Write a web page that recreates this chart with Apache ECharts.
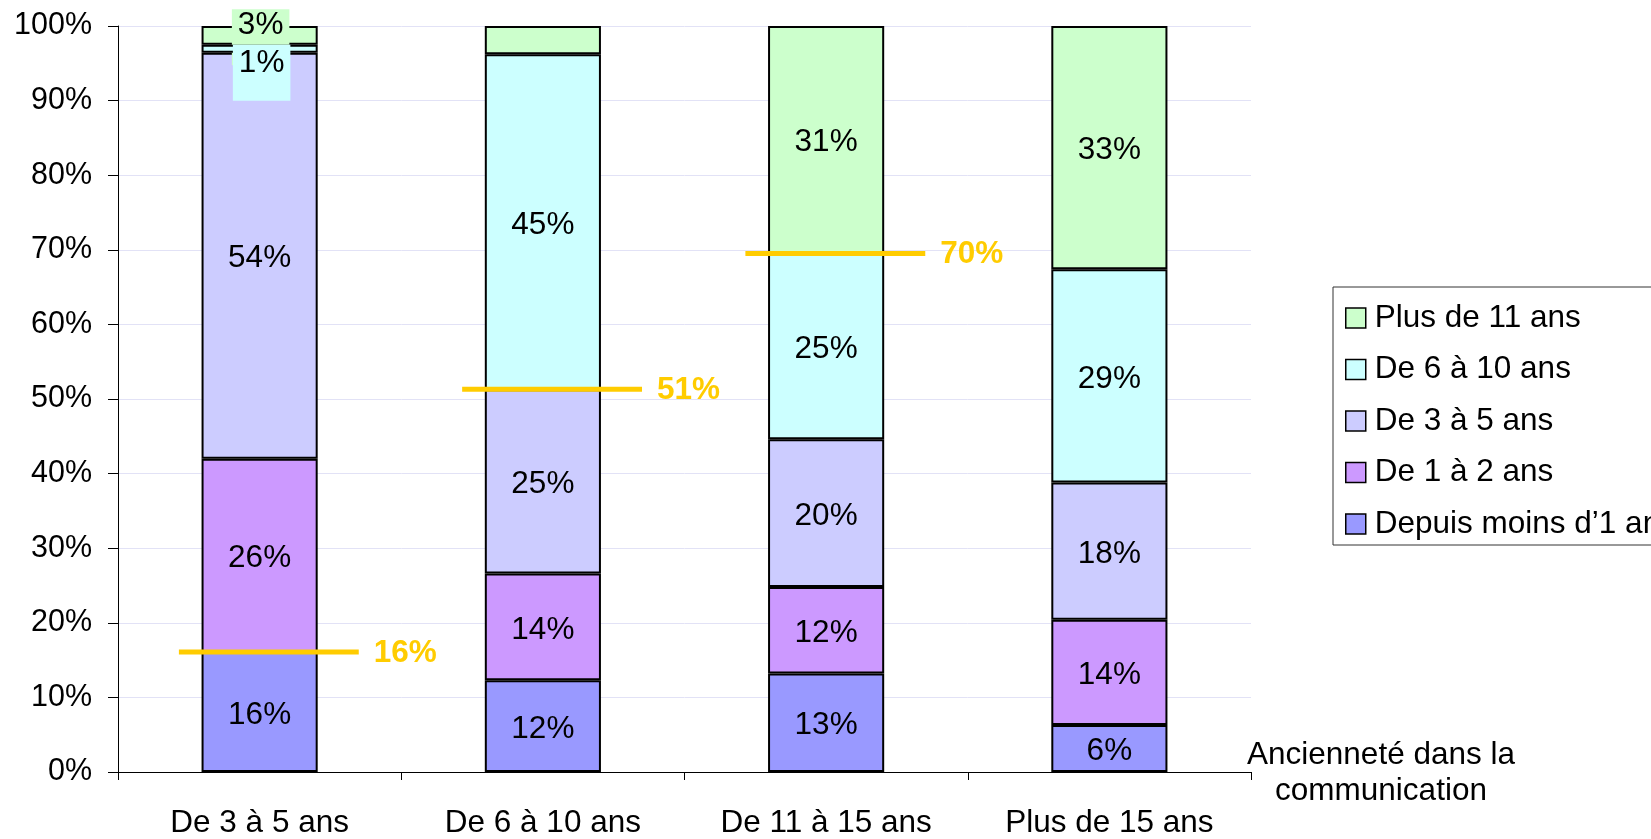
<!DOCTYPE html>
<html>
<head>
<meta charset="utf-8">
<script src="https://cdn.jsdelivr.net/npm/echarts@6/dist/echarts.min.js"></script>
<style>
  html, body { margin: 0; padding: 0; background: #fff; }
  #chart { width: 1651px; height: 839px; }
</style>
</head>
<body>
<div id="chart"></div>
<script>
// catégories (axe x)
var categories = ['De 3 à 5 ans', 'De 6 à 10 ans', 'De 11 à 15 ans', 'Plus de 15 ans'];

// parts par ancienneté dans la communication (%)
var depuisMoins1 = [16.1, 12.3, 13.2, 6.3];
var de1a2 = [25.9, 14.3, 11.6, 14.1];
var de3a5 = [54.4, 24.7, 19.8, 18.4];
var de6a10 = [1.1, 44.9, 24.9, 28.6];
var plus11 = [2.5, 3.8, 30.5, 32.6];

// lignes orange (seuils cumulés)
var seuilIndex = [0, 1, 2];
var seuilValeurs = [16.1, 51.3, 69.5];

var yTicks = [0, 10, 20, 30, 40, 50, 60, 70, 80, 90, 100];

var FONT = '"Liberation Sans", Arial, sans-serif';
var FS = 31.5;

var chart = echarts.init(document.getElementById('chart'));

function pct(p) {
  return Math.round(p.value) + '%';
}

function barSerie(name, data, color) {
  return {
    name: name,
    type: 'bar',
    stack: 'total',
    barWidth: '41%',
    data: data.slice(),
    itemStyle: { color: color, borderColor: '#000', borderWidth: 2 },
    label: {
      show: true,
      position: 'inside',
      offset: [0, 3],
      formatter: pct,
      color: '#000',
      fontSize: FS,
      fontFamily: FONT
    },
    emphasis: { disabled: true }
  };
}

var s1 = barSerie('Depuis moins d\u20191 an', depuisMoins1, '#9999FF');
var s2 = barSerie('De 1 à 2 ans', de1a2, '#CC99FF');
var s3 = barSerie('De 3 à 5 ans', de3a5, '#CCCCFF');
var s4 = barSerie('De 6 à 10 ans', de6a10, '#CCFFFF');
var s5 = barSerie('Plus de 11 ans', plus11, '#CCFFCC');

// étiquettes avec fond (petits segments de la 1re barre)
function pctHaut(p) {
  return Math.round(p.value) + '%\n ';
}
s4.z = 3;
s4.data[0] = {
  value: de6a10[0],
  label: {
    formatter: pctHaut, lineHeight: 19, backgroundColor: '#CCFFFF',
    padding: [9, 6, 9, 6], offset: [2, 24]
  }
};
s5.data[0] = {
  value: plus11[0],
  label: {
    formatter: pctHaut, lineHeight: 25, backgroundColor: '#CCFFCC',
    padding: [3, 6, 3, 6], offset: [1, 2]
  }
};
s5.data[1] = { value: plus11[1], label: { show: false } };

var option = {
  animation: false,
  grid: { left: 118, right: 400, top: 26, bottom: 62 },
  legend: {
    orient: 'vertical',
    left: 1333,
    top: 287,
    padding: [15, 12, 5, 12],
    itemGap: 19.5,
    itemWidth: 20,
    itemHeight: 20,
    icon: 'rect',
    borderColor: '#333',
    borderWidth: 1,
    borderRadius: 0,
    selectedMode: false,
    data: ['Plus de 11 ans', 'De 6 à 10 ans', 'De 3 à 5 ans', 'De 1 à 2 ans', 'Depuis moins d\u20191 an'],
    itemStyle: { borderColor: '#000', borderWidth: 1.5 },
    textStyle: { fontSize: FS, fontFamily: FONT, color: '#000', lineHeight: 30, padding: [0, 0, 0, 4] }
  },
  xAxis: {
    type: 'category',
    data: categories,
    axisLine: { lineStyle: { color: '#000', width: 1 } },
    axisTick: { show: true, length: 8, lineStyle: { color: '#000' } },
    axisLabel: { fontSize: FS, fontFamily: FONT, color: '#000', margin: 35 }
  },
  yAxis: {
    type: 'value',
    min: 0,
    max: 100,
    interval: 10,
    axisLine: { show: true, lineStyle: { color: '#000', width: 1 } },
    axisTick: { show: true, length: 10, lineStyle: { color: '#000' } },
    axisLabel: {
      formatter: '{value}%',
      fontSize: 30.5,
      fontFamily: FONT,
      color: '#000',
      margin: 26
    },
    splitLine: { lineStyle: { color: '#E2E2F6', width: 1 } }
  },
  graphic: [{
    type: 'text',
    x: 1381,
    y: 737,
    style: {
      text: 'Ancienneté dans la\ncommunication',
      align: 'center',
      verticalAlign: 'top',
      fontSize: FS,
      fontFamily: FONT,
      lineHeight: 36,
      fill: '#000'
    }
  }],
  series: [s1, s2, s3, s4, s5, {
    type: 'custom',
    name: 'seuils',
    z: 10,
    clip: false,
    encode: { x: 0, y: 1 },
    data: seuilIndex.map(function (c, i) { return [c, seuilValeurs[i]]; }),
    renderItem: function (params, api) {
      var pt = api.coord([api.value(0), api.value(1)]);
      var w = api.size([1, 0])[0];
      var x1 = pt[0] - w * 0.285;
      var x2 = pt[0] + w * 0.35;
      return {
        type: 'group',
        children: [
          {
            type: 'line',
            shape: { x1: x1, y1: pt[1], x2: x2, y2: pt[1] },
            style: { stroke: '#FFCC00', lineWidth: 5 }
          },
          {
            type: 'text',
            x: x2 + 15,
            y: pt[1] + 1,
            style: {
              text: Math.round(api.value(1)) + '%',
              fill: '#FFCC00',
              fontSize: FS,
              fontWeight: 'bold',
              fontFamily: FONT,
              align: 'left',
              verticalAlign: 'middle'
            }
          }
        ]
      };
    }
  }]
};

chart.setOption(option);
</script>
</body>
</html>
